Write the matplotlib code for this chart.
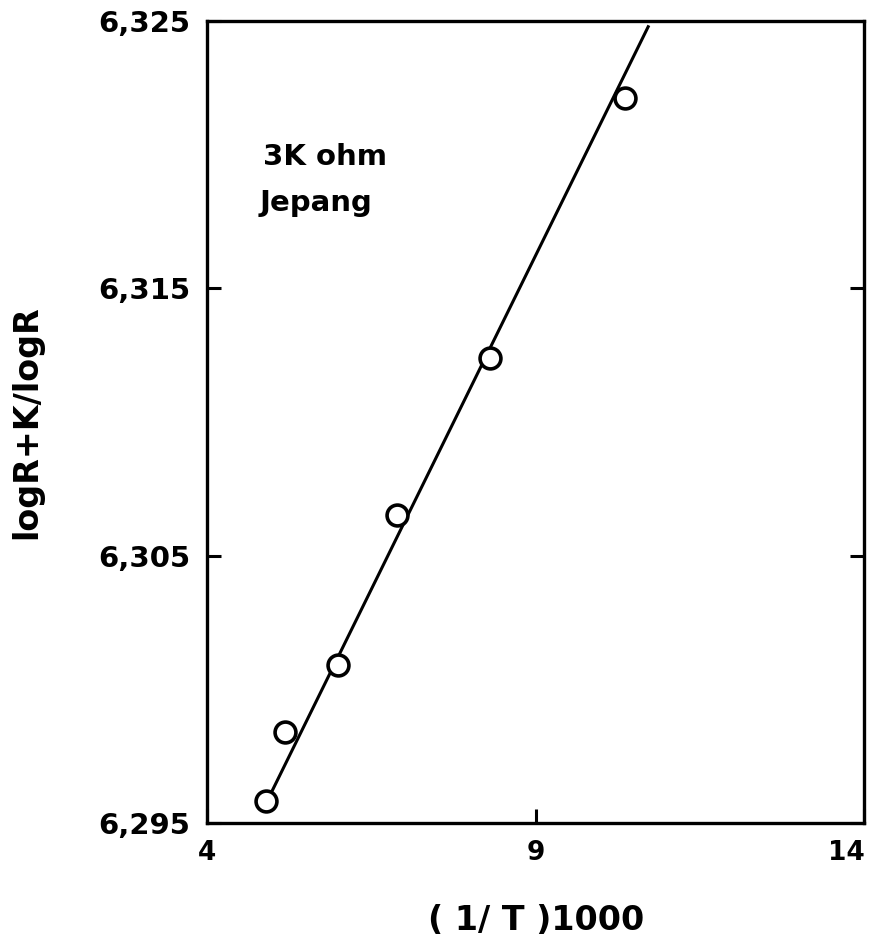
import numpy as np
import matplotlib
matplotlib.use("Agg")
import matplotlib.pyplot as plt

# data
x_pts = [4.90, 5.18, 5.99, 6.88, 8.31, 10.35]
y_pts = [6.2958, 6.2984, 6.3009, 6.3065, 6.3124, 6.3221]
x_line = [4.92, 10.71]
y_line = [6.29586, 6.32478]

y_ticks = [6.295, 6.305, 6.315, 6.325]
y_labels = ["6,295", "6,305", "6,315", "6,325"]
x_ticks = [4, 9, 14]
x_labels = ["4", "9", "14"]

plt.rcParams['font.family'] = ['DejaVu Sans']

fig = plt.figure(figsize=(8.82, 9.48), dpi=100)
ax = fig.add_axes([0.235, 0.132, 0.745, 0.846])

ax.plot(x_line, y_line, color='black', lw=2.2, zorder=2)
ax.plot(x_pts, y_pts, 'o', ms=15, mfc='white', mec='black', mew=2.6, zorder=3)

ax.set_xlim(4, 14)
ax.set_ylim(6.295, 6.325)
ax.set_xticks(x_ticks)
ax.set_xticklabels(x_labels)
ax.set_yticks(y_ticks)
ax.set_yticklabels(y_labels)
ax.tick_params(direction='in', length=10, width=2.2, labelsize=21, pad=12,
               right=True, top=False)
ax.tick_params(axis='x', labelsize=19)
for lbl in ax.get_xticklabels() + ax.get_yticklabels():
    lbl.set_fontweight('bold')
ax.get_xticklabels()[-1].set_horizontalalignment('right')
for s in ax.spines.values():
    s.set_linewidth(2.4)

ax.set_xlabel("( 1/ T )1000", fontsize=24, fontweight='bold', labelpad=28)
ax.set_ylabel("logR+K/logR", fontsize=24, fontweight='bold', labelpad=40)

ax.text(4.85, 6.3199, "3K ohm", fontsize=21, fontweight='bold', va='center')
ax.text(4.8, 6.3182, "Jepang", fontsize=21, fontweight='bold', va='center')

fig.savefig("out.png", dpi=100)
